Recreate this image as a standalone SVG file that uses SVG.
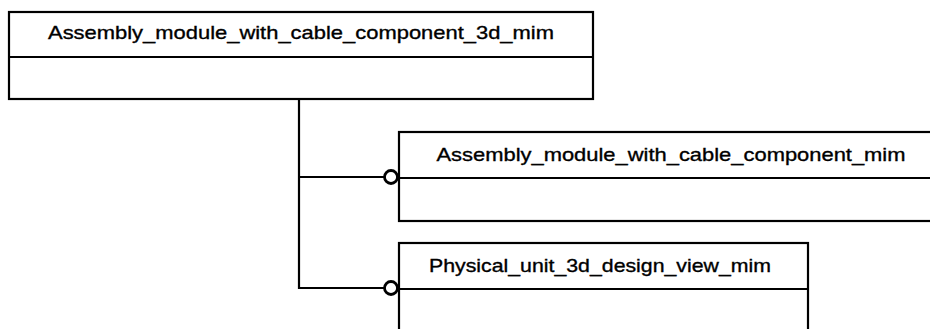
<svg xmlns="http://www.w3.org/2000/svg" width="930" height="329" viewBox="0 0 930 329">
<style>
.box{fill:#fff;stroke:#000;stroke-width:2.2}
.div{stroke:#000;stroke-width:2.2}
.lbl{font-family:"Liberation Sans",Arial,sans-serif;font-size:19px;fill:#000;stroke:#000;stroke-width:0.35;text-anchor:middle}
.conn{fill:none;stroke:#000;stroke-width:2.2}
.circ{fill:#fff;stroke:#000;stroke-width:2.8}
</style>
<rect width="930" height="329" fill="#fff"/>
<g id="connectors">
<path class="conn" d="M299,100 V288 H399"/>
<path class="conn" d="M299,177 H399"/>
</g>
<g id="node-top">
<rect class="box" x="9" y="12" width="584" height="87"/>
<line class="div" x1="9" y1="57" x2="593" y2="57"/>
<text class="lbl" x="301" y="39" textLength="506" lengthAdjust="spacingAndGlyphs">Assembly_module_with_cable_component_3d_mim</text>
</g>
<g id="node-cable">
<rect class="box" x="399" y="132" width="545" height="89"/>
<line class="div" x1="399" y1="178" x2="944" y2="178"/>
<text class="lbl" x="671" y="161" textLength="469" lengthAdjust="spacingAndGlyphs">Assembly_module_with_cable_component_mim</text>
</g>
<g id="node-physical">
<rect class="box" x="399" y="243" width="409" height="100"/>
<line class="div" x1="399" y1="289" x2="808" y2="289"/>
<text class="lbl" x="600" y="272" textLength="342" lengthAdjust="spacingAndGlyphs">Physical_unit_3d_design_view_mim</text>
</g>
<g id="ends">
<circle class="circ" cx="391" cy="177" r="6.5"/>
<circle class="circ" cx="391" cy="288" r="6.5"/>
</g>
</svg>
